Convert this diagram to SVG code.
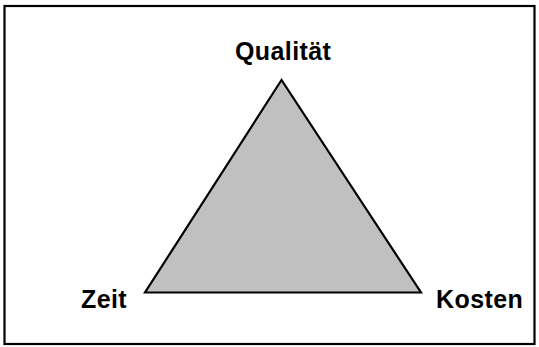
<svg xmlns="http://www.w3.org/2000/svg" width="539" height="347" viewBox="0 0 539 347">
<style>
.lbl{font-family:"Liberation Sans",Arial,sans-serif;font-weight:bold;font-size:25px;letter-spacing:0.4px;fill:#000}
</style>
<rect x="0" y="0" width="539" height="347" fill="#fff"/>
<rect x="4.5" y="6" width="530" height="338" fill="#fff" stroke="#000" stroke-width="2.2"/>
<g id="triangle">
<polygon points="281.5,80 145,292.5 421,292.5" fill="#c0c0c0" stroke="#000" stroke-width="2.2" stroke-linejoin="miter"/>
</g>
<g id="qualitaet"><text class="lbl" x="235" y="60">Qualität</text></g>
<g id="zeit"><text class="lbl" x="81" y="308">Zeit</text></g>
<g id="kosten"><text class="lbl" x="436" y="308">Kosten</text></g>
<g id="connectors"></g>
</svg>
